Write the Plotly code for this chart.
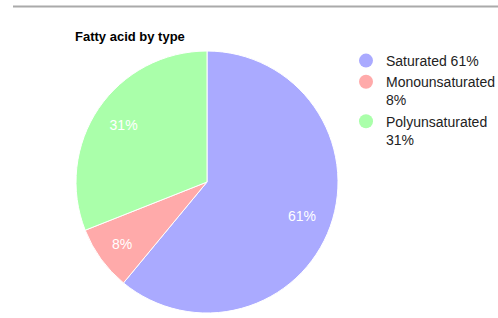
import plotly.graph_objects as go

# Data
categories = ["Saturated", "Monounsaturated", "Polyunsaturated"]
values = [61, 8, 31]
legend_labels = ["Saturated 61%", "Monounsaturated<br>8%", "Polyunsaturated<br>31%"]
colors = ["#aaaaff", "#ffaaaa", "#aaffaa"]
title_text = "Fatty acid by type"

W, H = 498, 318
pie_domain = dict(x=[76 / W, 338 / W], y=[1 - 313 / H, 1 - 51 / H])

fig = go.Figure()

# Filled pie
fig.add_trace(go.Pie(
    labels=categories,
    values=values,
    sort=False,
    direction="clockwise",
    rotation=0,
    marker=dict(colors=colors, line=dict(color="white", width=1)),
    textinfo="none",
    domain=pie_domain,
    showlegend=False,
    hoverinfo="label+percent",
))

# Transparent ring on top, used only to place the percentage labels
fig.add_trace(go.Pie(
    labels=categories,
    values=values,
    sort=False,
    direction="clockwise",
    rotation=0,
    hole=0.54,
    marker=dict(colors=["rgba(0,0,0,0)"] * len(values), line=dict(width=0)),
    texttemplate="%{percent:.0%}",
    textposition="inside",
    insidetextorientation="horizontal",
    textfont=dict(color="white", size=14, family="Arial"),
    domain=pie_domain,
    showlegend=False,
    hoverinfo="skip",
))

# Legend entries with circle markers
for lab, col in zip(legend_labels, colors):
    fig.add_trace(go.Scatter(
        x=[None], y=[None], mode="markers",
        marker=dict(symbol="circle", size=14, color=col),
        name=lab, showlegend=True,
    ))

fig.update_layout(
    width=W, height=H,
    margin=dict(l=0, r=0, t=0, b=0, autoexpand=False),
    paper_bgcolor="white",
    plot_bgcolor="white",
    xaxis=dict(visible=False),
    yaxis=dict(visible=False),
    title=dict(
        text="<b>" + title_text + "</b>",
        x=75 / W, xanchor="left",
        y=1 - 36 / H, yanchor="middle",
        font=dict(family="Arial", size=13, color="#000000"),
    ),
    legend=dict(
        x=346 / W, xanchor="left",
        y=1 - 45 / H, yanchor="top",
        valign="top",
        font=dict(family="Arial", size=14, color="#222222"),
        bgcolor="rgba(0,0,0,0)",
    ),
    shapes=[dict(
        type="line", xref="paper", yref="paper",
        x0=13 / W, x1=1, y0=1 - 6.5 / H, y1=1 - 6.5 / H,
        line=dict(color="#aaaaaa", width=2),
    )],
)

fig.write_html(
    "out.html",
    config={"displayModeBar": False},
    post_script="document.body.style.margin='0px';",
)
